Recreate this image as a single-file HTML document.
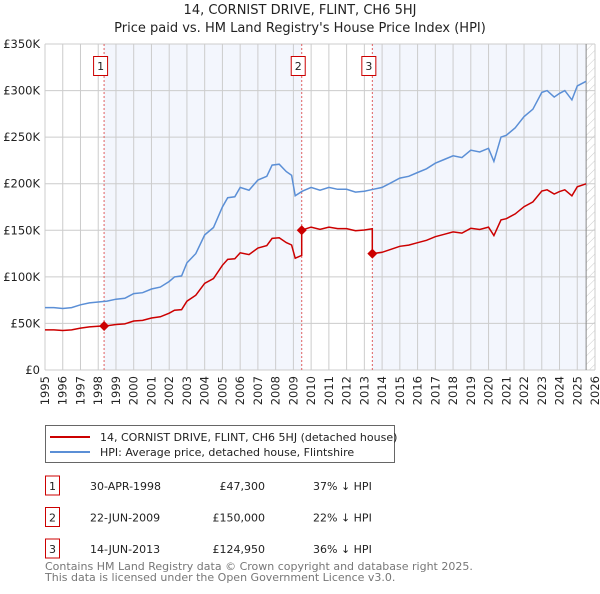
<!DOCTYPE html>
<html><head><meta charset="utf-8"><style>
body{margin:0;background:#fff;font-family:"DejaVu Sans","Liberation Sans",sans-serif;}
svg text{font-family:"DejaVu Sans","Liberation Sans",sans-serif;}
</style></head><body>
<svg id="chart" width="600" height="590" viewBox="0 0 600 590" xmlns="http://www.w3.org/2000/svg">
<defs><pattern id="hatch" width="6" height="6" patternUnits="userSpaceOnUse" patternTransform="rotate(45)"><line x1="0" y1="0" x2="0" y2="6" stroke="#ccc" stroke-width="1"/></pattern></defs>
<text x="300" y="14" text-anchor="middle" font-size="13" fill="#222">14, CORNIST DRIVE, FLINT, CH6 5HJ</text>
<text x="300" y="32" text-anchor="middle" font-size="13" fill="#222">Price paid vs. HM Land Registry's House Price Index (HPI)</text>
<g id="plot"></g>
<g>
<rect x="45.5" y="425.5" width="349" height="37" fill="#fff" stroke="#666"/>
<line x1="50" y1="437" x2="90" y2="437" stroke="#cc0000" stroke-width="2"/>
<text x="100" y="441" font-size="11" fill="#222">14, CORNIST DRIVE, FLINT, CH6 5HJ (detached house)</text>
<line x1="50" y1="452" x2="90" y2="452" stroke="#5b8fd6" stroke-width="2"/>
<text x="100" y="456" font-size="11" fill="#222">HPI: Average price, detached house, Flintshire</text>
</g>
<g id="table" font-size="11" fill="#222"></g>
<text x="45" y="570" font-size="11" fill="#777">Contains HM Land Registry data © Crown copyright and database right 2025.</text>
<text x="45" y="581" font-size="11" fill="#777">This data is licensed under the Open Government Licence v3.0.</text>
</svg>
<script>
const hpiYears=[1995,1995.5,1996,1996.5,1997,1997.5,1998,1998.5,1999,1999.5,2000,2000.5,2001,2001.5,2002,2002.3,2002.7,2003,2003.5,2004,2004.5,2005,2005.3,2005.7,2006,2006.5,2007,2007.5,2007.8,2008.2,2008.6,2008.9,2009.1,2009.5,2010,2010.5,2011,2011.5,2012,2012.5,2013,2013.5,2014,2014.5,2015,2015.5,2016,2016.5,2017,2017.5,2018,2018.5,2019,2019.5,2020,2020.3,2020.7,2021,2021.5,2022,2022.5,2023,2023.3,2023.7,2024,2024.3,2024.7,2025,2025.5];
const hpiValues=[67,67,66,67,70,72,73,74,76,77,82,83,87,89,95,100,101,115,125,145,153,175,185,186,196,193,204,208,220,221,213,209,187,192,196,193,196,194,194,191,192,194,196,201,206,208,212,216,222,226,230,228,236,234,238,224,250,252,260,272,280,298,300,293,297,300,290,305,310];
const saleYears=[1998.33,2009.47,2013.45];
const salePrices=[47300,150000,124950];
const saleDates=["30-APR-1998","22-JUN-2009","14-JUN-2013"];
const salePriceLabels=["£47,300","£150,000","£124,950"];
const saleDiffs=["37% ↓ HPI","22% ↓ HPI","36% ↓ HPI"];
const yTicks=[0,50,100,150,200,250,300,350];
const yTickLabels=["£0","£50K","£100K","£150K","£200K","£250K","£300K","£350K"];
const NS="http://www.w3.org/2000/svg";
const X0=45,X1=595,Y0=370,Y1=44;
const xs=y=>X0+(y-1995)*(X1-X0)/31;
const ys=v=>Y0-v*(Y0-Y1)/350;
const plot=document.getElementById('plot');
function mk(t,a,p){const e=document.createElementNS(NS,t);for(const k in a)e.setAttribute(k,a[k]);(p||plot).appendChild(e);return e;}
function hpiAt(y){for(let i=0;i<hpiYears.length-1;i++){if(y<=hpiYears[i+1]){const t=(y-hpiYears[i])/(hpiYears[i+1]-hpiYears[i]);return hpiValues[i]+t*(hpiValues[i+1]-hpiValues[i]);}}return hpiValues[hpiValues.length-1];}
let r=mk('rect',{x:xs(saleYears[0]),y:Y1,width:xs(saleYears[1])-xs(saleYears[0]),height:Y0-Y1,fill:'#f3f6fd'});

r=mk('rect',{x:xs(saleYears[2]),y:Y1,width:xs(2025.5)-xs(saleYears[2]),height:Y0-Y1,fill:'#f3f6fd'});

r=mk('rect',{x:xs(2025.5),y:Y1,width:X1-xs(2025.5),height:Y0-Y1,fill:'url(#hatch)'});

for(let y=1995;y<=2026;y++){
 const l=mk('line',{x1:xs(y),x2:xs(y),y1:Y1,y2:Y0,stroke:'#ccc','stroke-width':1});
 
 const t=mk('text',{x:0,y:0,'font-size':11.5,fill:'#222','text-anchor':'end',transform:`translate(${xs(y)+4},376) rotate(-90)`});
 t.textContent=y;
}
yTicks.forEach((v,i)=>{
 const l=mk('line',{x1:X0,x2:X1,y1:ys(v),y2:ys(v),stroke:'#ccc','stroke-width':1});
 
 const t=mk('text',{x:40,y:ys(v)+4,'font-size':11.5,fill:'#222','text-anchor':'end'});
 t.textContent=yTickLabels[i];
});
const nl=mk('line',{x1:xs(2025.5),x2:xs(2025.5),y1:Y1,y2:Y0,stroke:'#888','stroke-width':1});

saleYears.forEach((y,i)=>{
 const l=mk('line',{x1:xs(y),x2:xs(y),y1:Y1,y2:Y0,stroke:'#e06060','stroke-width':1,'stroke-dasharray':'2,2'});
 
 const b=mk('rect',{x:xs(y)-10.5,y:56.5,width:14,height:19,fill:'#fff',stroke:'#cc0000'});
 
 const t=mk('text',{x:xs(y)-3.5,y:70,'font-size':11,fill:'#222','text-anchor':'middle'});
 t.textContent=i+1;
});
let d='';hpiYears.forEach((y,i)=>{d+=(i?'L':'M')+xs(y).toFixed(1)+','+ys(hpiValues[i]).toFixed(1);});
const hp=mk('path',{d,fill:'none',stroke:'#5b8fd6','stroke-width':1.5});

let pts=[];
const seg=(a,b,k)=>{const ratio=salePrices[k]/1000/hpiAt(saleYears[k]);const yrs=[a].concat(hpiYears.filter(y=>y>a&&y<b)).concat([b]);yrs.forEach(y=>pts.push([y,hpiAt(y)*ratio]));};
seg(1995,saleYears[1],0);seg(saleYears[1],saleYears[2],1);seg(saleYears[2],2025.5,2);
d='';pts.forEach((p,i)=>{d+=(i?'L':'M')+xs(p[0]).toFixed(1)+','+ys(p[1]).toFixed(1);});
const pp=mk('path',{d,fill:'none',stroke:'#cc0000','stroke-width':1.5});

saleYears.forEach((y,i)=>{
 const cx=xs(y),cy=ys(salePrices[i]/1000);
 const m=mk('path',{d:`M${cx-5},${cy}L${cx},${cy-5}L${cx+5},${cy}L${cx},${cy+5}Z`,fill:'#cc0000'});
 
});
const tb=document.getElementById('table');
saleYears.forEach((y,i)=>{
 const ry=476+i*31.5;
 const b=mk('rect',{x:45.5,y:ry,width:14,height:19,fill:'#fff',stroke:'#cc0000'},tb);
 
 const cells=[[52.5,'middle',i+1],[90,'start',saleDates[i]],[265,'end',salePriceLabels[i]],[313,'start',saleDiffs[i]]];
 cells.forEach(c=>{const t=mk('text',{x:c[0],y:ry+14,'text-anchor':c[1]},tb);t.textContent=c[2];
  });
});
</script>
</body></html>
